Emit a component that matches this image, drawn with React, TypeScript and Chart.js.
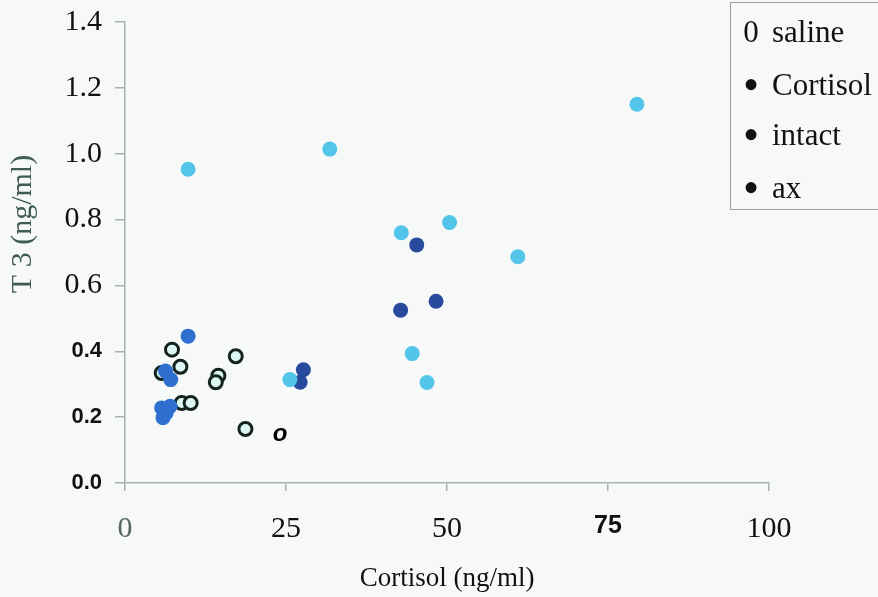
import React, { useEffect, useRef } from "react";
import { Chart, registerables } from "chart.js";

Chart.register(...registerables);

// ---- Data ----
const cortisolX = [79.5, 31.8, 9.8, 42.9, 50.4, 61.0, 44.6, 46.9, 25.6];
const cortisolY = [1.15, 1.014, 0.953, 0.76, 0.791, 0.687, 0.393, 0.305, 0.314];

const intactX = [9.8, 6.3, 7.1, 5.7, 7.0, 5.9, 6.4];
const intactY = [0.446, 0.34, 0.314, 0.228, 0.233, 0.198, 0.213];

const axX = [45.3, 42.8, 48.3, 27.7, 27.2];
const axY = [0.723, 0.525, 0.552, 0.344, 0.306];

const salineX = [7.3, 8.6, 5.7, 8.8, 10.2, 14.5, 14.1, 17.2, 18.7];
const salineY = [0.405, 0.353, 0.334, 0.243, 0.243, 0.326, 0.306, 0.385, 0.164];

const strayMarkX = [24.1];
const strayMarkY = [0.147];

const xTicks = [0, 25, 50, 75, 100];
const yTicks = [0, 0.2, 0.4, 0.6, 0.8, 1.0, 1.2, 1.4];

const legendLabels = ["saline", "Cortisol", "intact", "ax"];
const legendMarks = ["0", "•", "•", "•"];

const xTitle = "Cortisol (ng/ml)";
const yTitle = "T 3 (ng/ml)";

const pts = (xs: number[], ys: number[]) => xs.map((x, i) => ({ x, y: ys[i] }));

export default function App() {
  const ref = useRef<HTMLCanvasElement | null>(null);

  useEffect(() => {
    if (!ref.current) return;
    const extras = {
      id: "extras",
      afterDraw(chart: any) {
        const ctx = chart.ctx;
        ctx.save();
        // y axis title
        ctx.translate(23, 224);
        ctx.rotate(-Math.PI / 2);
        ctx.font = "30px 'Liberation Serif'";
        ctx.fillStyle = "#3f5c52";
        ctx.textAlign = "center";
        ctx.textBaseline = "middle";
        ctx.fillText(yTitle, 0, 0);
        ctx.restore();
        // stray mark
        ctx.save();
        ctx.font = "italic bold 24px 'Liberation Sans'";
        ctx.fillStyle = "#000";
        ctx.textAlign = "center";
        ctx.textBaseline = "middle";
        strayMarkX.forEach((x, i) => {
          const px = chart.scales.x.getPixelForValue(x);
          const py = chart.scales.y.getPixelForValue(strayMarkY[i]);
          ctx.fillText("o", px, py);
        });
        ctx.restore();
      },
    };

    const chart = new Chart(ref.current, {
      type: "scatter",
      data: {
        datasets: [
          {
            label: "Cortisol",
            data: pts(cortisolX, cortisolY),
            backgroundColor: "#52c5e9",
            borderColor: "#52c5e9",
            pointRadius: 7.5,
            borderWidth: 0,
            order: 1,
          },
          {
            label: "intact",
            data: pts(intactX, intactY),
            backgroundColor: "#2e6fcf",
            borderColor: "#2e6fcf",
            pointRadius: 7.5,
            borderWidth: 0,
            order: 1,
          },
          {
            label: "ax",
            data: pts(axX, axY),
            backgroundColor: "#284a9c",
            borderColor: "#284a9c",
            pointRadius: 7.5,
            borderWidth: 0,
            order: 1,
          },
          {
            label: "saline",
            data: pts(salineX, salineY),
            backgroundColor: "#dcf6f1",
            borderColor: "#15231f",
            pointRadius: 6.5,
            borderWidth: 3,
            order: 3,
          },
        ],
      },
      options: {
        responsive: false,
        animation: false,
        layout: { padding: { top: 22, right: 109, left: 0, bottom: 0 } },
        plugins: { legend: { display: false }, tooltip: { enabled: false } },
        scales: {
          x: {
            type: "linear",
            min: 0,
            max: 100,
            afterBuildTicks: (s: any) => {
              s.ticks = xTicks.map((v) => ({ value: v }));
            },
            afterFit: (s: any) => {
              s.height = 114;
              s.paddingLeft = 0;
              s.paddingRight = 0;
            },
            border: { display: true, color: "#a9b1af", width: 1.5 },
            grid: { drawOnChartArea: false, drawTicks: true, tickLength: 8, color: "#a9b1af", lineWidth: 1.5 },
            ticks: {
              padding: 20,
              color: (c: any) => (c.tick && c.tick.value === 0 ? "#56675f" : "#111"),
              font: (c: any) =>
                c.tick && c.tick.value === 75
                  ? { family: "'Liberation Sans'", weight: "bold", size: 25 }
                  : { family: "'Liberation Serif'", size: 30 },
              callback: (v: any) => String(v),
            },
            title: {
              display: true,
              text: xTitle,
              color: "#111",
              font: { family: "'Liberation Serif'", size: 27 },
              padding: { top: 0, bottom: 2 },
            },
          },
          y: {
            type: "linear",
            min: 0,
            max: 1.4,
            afterBuildTicks: (s: any) => {
              s.ticks = yTicks.map((v) => ({ value: v }));
            },
            afterFit: (s: any) => {
              s.width = 125;
              s.paddingTop = 0;
              s.paddingBottom = 0;
            },
            border: { display: true, color: "#a9b1af", width: 1.5 },
            grid: { drawOnChartArea: false, drawTicks: true, tickLength: 10, color: "#a9b1af", lineWidth: 1.5 },
            ticks: {
              padding: 13,
              color: "#111",
              font: (c: any) =>
                c.tick && c.tick.value < 0.5
                  ? { family: "'Liberation Sans'", weight: "bold", size: 22 }
                  : { family: "'Liberation Serif'", size: 30 },
              callback: (v: any) => Number(v).toFixed(1),
            },
          },
        },
      },
      plugins: [extras],
    } as any);
    return () => chart.destroy();
  }, []);

  return (
    <div
      style={{
        position: "absolute",
        left: 0,
        top: 0,
        width: 878,
        height: 597,
        overflow: "hidden",
        background: "#f7f9f9",
      }}
    >
      <canvas ref={ref} width={878} height={597} style={{ display: "block" }} />
      <div
        style={{
          position: "absolute",
          left: 730,
          top: 2,
          width: 170,
          height: 206,
          border: "1px solid #9a9f9d",
          fontFamily: "'Liberation Serif'",
          fontSize: 31,
          color: "#111",
        }}
      >
        {legendLabels.map((lab, i) => (
          <div
            key={lab}
            style={{
              position: "absolute",
              left: 0,
              top: [9, 62, 112, 165][i],
              height: 40,
              lineHeight: "40px",
              whiteSpace: "nowrap",
            }}
          >
            <span
              style={{
                position: "absolute",
                left: 9,
                width: 22,
                textAlign: "center",
                fontSize: i === 0 ? 31 : 46,
              }}
            >
              {legendMarks[i]}
            </span>
            <span style={{ position: "absolute", left: 41 }}>{lab}</span>
          </div>
        ))}
      </div>
    </div>
  );
}
